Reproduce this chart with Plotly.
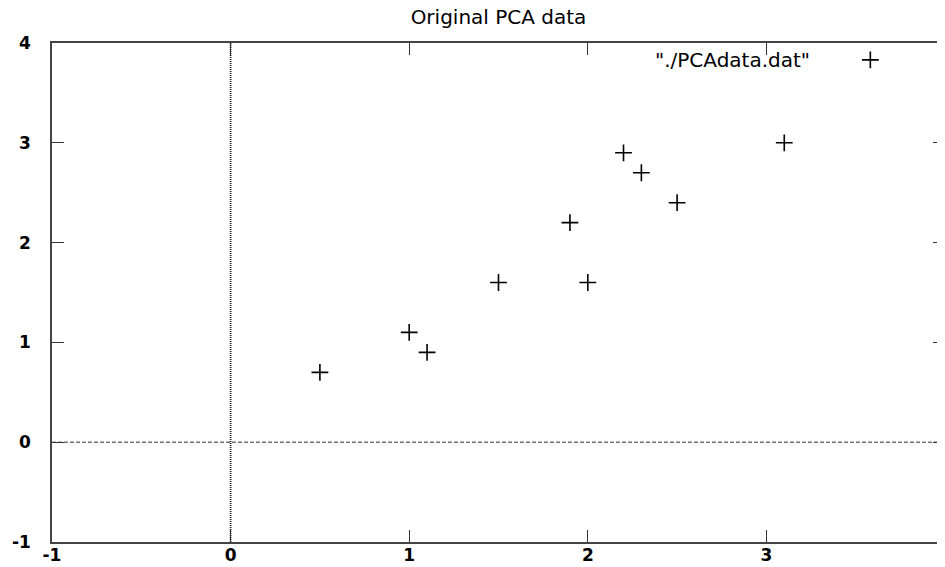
import plotly.graph_objects as go

# Data (PCA tutorial dataset)
x_vals = [2.5, 0.5, 2.2, 1.9, 3.1, 2.3, 2.0, 1.0, 1.5, 1.1]
y_vals = [2.4, 0.7, 2.9, 2.2, 3.0, 2.7, 1.6, 1.1, 1.6, 0.9]
x_ticks = [-1, 0, 1, 2, 3, 4]
y_ticks = [-1, 0, 1, 2, 3, 4]
title_text = "Original PCA data"
legend_label = '"./PCAdata.dat"'

FONT = "DejaVu Sans"

fig = go.Figure()
fig.add_trace(go.Scatter(
    x=x_vals, y=y_vals, mode="markers", name=" ",
    marker=dict(symbol="cross-thin", size=12, line=dict(width=1.6, color="black"), color="black"),
    showlegend=True,
))

# zero axes
fig.add_shape(type="line", xref="x", yref="paper", x0=0, x1=0, y0=0, y1=1,
              line=dict(color="#222", width=1.8, dash="1px,1px"), layer="below")
fig.add_shape(type="line", xref="paper", yref="y", x0=0, x1=1, y0=0, y1=0,
              line=dict(color="#333", width=1, dash="4px,2px"), layer="below")

axis_common = dict(
    showgrid=False, zeroline=False, showline=True, mirror="allticks",
    linecolor="#444", linewidth=1.5, ticks="inside", ticklen=12, tickwidth=1,
    tickcolor="#333", tickfont=dict(family=FONT, size=17, color="black", weight="bold"),
    ticklabeloverflow="allow", automargin=False,
)

fig.update_xaxes(range=[-1, 4], tickvals=x_ticks, ticktext=[str(v) for v in x_ticks],
                 ticklabelstandoff=-3, **axis_common)
fig.update_yaxes(range=[-1, 4], tickvals=y_ticks, ticktext=[str(v) for v in y_ticks],
                 ticklabelstandoff=16, **axis_common)

fig.add_annotation(text=legend_label, xref="paper", yref="paper", x=0.851, y=0.966,
                   xanchor="right", yanchor="middle", showarrow=False,
                   font=dict(family=FONT, size=20, color="black"))

# page body has an 8px margin, so the figure is sized/offset to land on the window
fig.update_layout(
    width=937, height=559,
    margin=dict(l=44, r=0, t=35, b=25, autoexpand=False),
    paper_bgcolor="white", plot_bgcolor="white",
    title=dict(text=title_text, x=0.5, xref="paper", y=1 - 9 / 559, yanchor="middle", xanchor="center",
               font=dict(family=FONT, size=20, color="black")),
    legend=dict(x=0.894, y=0.966, xanchor="left", yanchor="middle", bgcolor="rgba(0,0,0,0)",
                font=dict(family=FONT, size=16)),
    font=dict(family=FONT),
)

fig.write_html("out.html")
